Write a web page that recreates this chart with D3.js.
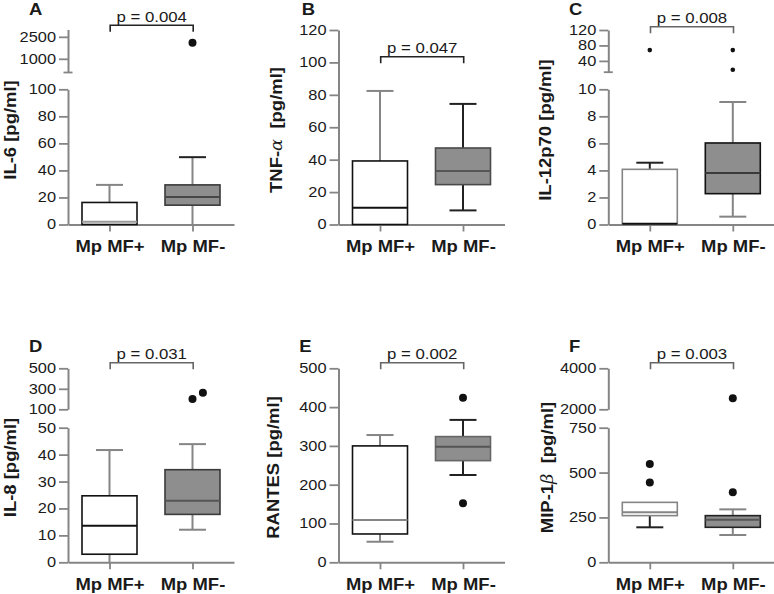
<!DOCTYPE html>
<html><head><meta charset="utf-8">
<script src="https://cdn.jsdelivr.net/npm/d3@7"></script>
<style>
body{margin:0;background:#fff}
svg{display:block}
text{font-family:"Liberation Sans",Arial,sans-serif;fill:#1a1a1a}
</style>
</head><body>
<svg id="chart" width="774" height="594"></svg>
<script>
// ---------- data ----------
const groups = ["Mp MF+", "Mp MF-"];
const panelLetters = ["A", "B", "C", "D", "E", "F"];
const yTitles = ["IL-6 [pg/ml]", "TNF-α  [pg/ml]", "IL-12p70 [pg/ml]", "IL-8 [pg/ml]", "RANTES [pg/ml]", "MIP-1β  [pg/ml]"];
const pLabels = ["p = 0.004", "p = 0.047", "p = 0.008", "p = 0.031", "p = 0.002", "p = 0.003"];

// box statistics per group: [lower whisker, Q1, median, Q3, upper whisker]
const il6Stats = [[0, 0, 2, 16.3, 29.3], [0, 14.3, 20.4, 29.3, 49.8]];
const il6Outliers = [[], [2100]];
const tnfStats = [[0, 0, 10.3, 39.2, 82.4], [8.7, 24.6, 33, 47.2, 74.4]];
const tnfOutliers = [[], []];
const il12Stats = [[0, 0, 0.05, 4.08, 4.57], [0.58, 2.28, 3.81, 6.03, 9.06]];
const il12Outliers = [[68], [68, 17]];
const il8Stats = [[0, 3.0, 13.6, 24.7, 41.7], [12.1, 17.8, 22.9, 34.4, 43.9]];
const il8Outliers = [[], [200, 262]];
const rantesStats = [[53, 73, 109, 300, 328], [225, 262, 298, 324, 367]];
const rantesOutliers = [[], [424, 152]];
const mipStats = [[195, 260, 279, 334, 334], [152, 195, 237, 260, 295]];
const mipOutliers = [[548, 444], [390, 2540]];

// axis domains and ticks
const il6Lower = [0, 100], il6LowerTicks = [0, 20, 40, 60, 80, 100];
const il6Upper = [100, 3000], il6UpperTicks = [100, 1000, 2500], il6UpperLabels = ["", "1000", "2500"];
const tnfLower = [0, 120], tnfLowerTicks = [0, 20, 40, 60, 80, 100, 120];
const il12Lower = [0, 10], il12LowerTicks = [0, 2, 4, 6, 8, 10];
const il12Upper = [12, 120], il12UpperTicks = [12, 40, 80, 120], il12UpperLabels = ["", "40", "80", "120"];
const il8Lower = [0, 50], il8LowerTicks = [0, 10, 20, 30, 40, 50];
const il8Upper = [100, 500], il8UpperTicks = [100, 300, 500], il8UpperLabels = ["100", "300", "500"];
const rantesLower = [0, 500], rantesLowerTicks = [0, 100, 200, 300, 400, 500];
const mipLower = [0, 750], mipLowerTicks = [0, 250, 500, 750];
const mipUpper = [2000, 4000], mipUpperTicks = [2000, 4000], mipUpperLabels = ["2000", "4000"];

const panels = [
  {stats: il6Stats, outliers: il6Outliers, lower: il6Lower, lowerTicks: il6LowerTicks, upper: il6Upper, upperTicks: il6UpperTicks, upperLabels: il6UpperLabels},
  {stats: tnfStats, outliers: tnfOutliers, lower: tnfLower, lowerTicks: tnfLowerTicks},
  {stats: il12Stats, outliers: il12Outliers, lower: il12Lower, lowerTicks: il12LowerTicks, upper: il12Upper, upperTicks: il12UpperTicks, upperLabels: il12UpperLabels},
  {stats: il8Stats, outliers: il8Outliers, lower: il8Lower, lowerTicks: il8LowerTicks, upper: il8Upper, upperTicks: il8UpperTicks, upperLabels: il8UpperLabels},
  {stats: rantesStats, outliers: rantesOutliers, lower: rantesLower, lowerTicks: rantesLowerTicks},
  {stats: mipStats, outliers: mipOutliers, lower: mipLower, lowerTicks: mipLowerTicks, upper: mipUpper, upperTicks: mipUpperTicks, upperLabels: mipUpperLabels}
];

// ---------- layout & style ----------
const colX = [68, 338.5, 608.3];
const rowLayout = [
  {bottom: 224.5, lowTopBroken: 89.3, lowTopFull: 30, letterY: 15, titleY: 130},
  {bottom: 562.3, lowTopBroken: 427.7, lowTopFull: 368.3, letterY: 352, titleY: 467.5}
];
const bracketY = [25.3, 56.7, 26.7, 362.7, 362.7, 362.7];
const letterX = [29, 301.7, 569, 29, 299.3, 569];
const titleX = [15.5, 282, 551, 15.5, 279, 553];
const upRange = [[72, 29.5], null, [71.7, 30], [409.3, 368.3], null, [409.3, 368.3]];
const dotR = [4, 4, 2.3, 4, 4, 4];
const GRAY = "#858585";
const FILL2 = "#8e8e8e";
const styles = [
  {box: ["#111", "#3a3a3a"], med: ["#999", "#474747"], wh: [GRAY, GRAY], cap: [GRAY, "#222"]},
  {box: ["#111", "#4a4a4a"], med: ["#111", "#555"], wh: [GRAY, "#222"], cap: [GRAY, "#222"]},
  {box: [GRAY, "#111"], med: ["#111", "#3a3a3a"], wh: ["#222", GRAY], cap: ["#222", GRAY]},
  {box: ["#111", "#3a3a3a"], med: ["#111", "#555"], wh: [GRAY, GRAY], cap: [GRAY, GRAY]},
  {box: ["#111", "#666"], med: [GRAY, "#555"], wh: [GRAY, "#222"], cap: [GRAY, "#222"]},
  {box: [GRAY, "#222"], med: [GRAY, "#555"], wh: ["#222", GRAY], cap: ["#222", GRAY]}
];
const STRETCH = 1.12;
const TICK_STRETCH = 1.17;

const svg = d3.select("#chart");

function stretchText(sel, origin, s = STRETCH) {
  sel.style("transform-box", "fill-box").style("transform-origin", origin).style("transform", `scaleX(${s})`);
}

function addTitle(g, txt, x, y) {
  const t = g.append("text")
    .attr("transform", `translate(${x},${y}) rotate(-90) scale(${STRETCH},1)`)
    .attr("text-anchor", "middle")
    .style("font-size", "16.5px").style("font-weight", "bold").style("white-space", "pre");
  txt.split(/([αβ])/).forEach(part => {
    if (!part) return;
    const ts = t.append("tspan").text(part);
    if (/[αβ]/.test(part)) ts.style("font-family", "'DejaVu Serif','Liberation Serif',serif").style("font-weight", "normal").style("font-style", "italic").style("font-size", "16px");
  });
}

function styleAxis(a, labelSize) {
  a.select(".domain").attr("stroke", GRAY).attr("stroke-width", 2);
  a.selectAll(".tick line").attr("stroke", GRAY).attr("stroke-width", 1.8);
  a.selectAll(".tick text").attr("fill", "#1a1a1a").style("font-size", labelSize).style("font-family", '"Liberation Sans",Arial,sans-serif');
}

panels.forEach((p, i) => {
  const row = rowLayout[Math.floor(i / 3)];
  const ax = colX[i % 3];
  const st = styles[i];
  const g = svg.append("g");

  const x = d3.scalePoint().domain(groups).range([ax, ax + 166]).padding(0.5);
  const yLow = d3.scaleLinear().domain(p.lower).range([row.bottom, p.upper ? row.lowTopBroken : row.lowTopFull]);
  const yUp = p.upper ? d3.scaleLinear().domain(p.upper).range(upRange[i]) : null;
  const yv = v => (p.upper && v > p.lower[1]) ? yUp(v) : yLow(v);

  // lower y axis
  const aL = g.append("g").attr("transform", `translate(${ax},0)`)
    .call(d3.axisLeft(yLow).tickValues(p.lowerTicks).tickSize(9).tickPadding(3).tickSizeOuter(0).tickFormat(d3.format("d")));
  styleAxis(aL, "14px");
  stretchText(aL.selectAll(".tick text"), "right center", TICK_STRETCH);

  if (yUp) {
    const aU = g.append("g").attr("transform", `translate(${ax},0)`)
      .call(d3.axisLeft(yUp).tickValues(p.upperTicks).tickSize(9).tickPadding(3).tickSizeOuter(0)
        .tickFormat((d, k) => p.upperLabels[k]));
    styleAxis(aU, "14px");
    stretchText(aU.selectAll(".tick text"), "right center", TICK_STRETCH);
    // unlabeled segment-end ticks straddle the axis
    aU.selectAll(".tick").filter((d, k) => p.upperLabels[k] === "")
      .select("line").attr("x1", -4.5).attr("x2", 4.5);
  }

  // x axis
  const aX = g.append("g").attr("transform", `translate(0,${row.bottom})`)
    .call(d3.axisBottom(x).tickSize(7).tickPadding(9).tickSizeOuter(0));
  styleAxis(aX, "16.5px");
  aX.selectAll(".tick text").style("font-weight", "bold");
  stretchText(aX.selectAll(".tick text"), "center");

  const half = 27.5, capHalf = 13.5;
  groups.forEach((grp, k) => {
    const [lo, q1, med, q3, hi] = p.stats[k];
    const cx = x(grp);
    const wg = g.append("g");
    if (hi > q3) {
      wg.append("line").attr("x1", cx).attr("x2", cx).attr("y1", yv(q3)).attr("y2", yv(hi)).attr("stroke", st.wh[k]).attr("stroke-width", 2);
      wg.append("line").attr("x1", cx - capHalf).attr("x2", cx + capHalf).attr("y1", yv(hi)).attr("y2", yv(hi)).attr("stroke", st.cap[k]).attr("stroke-width", 2);
    }
    if (lo < q1) {
      wg.append("line").attr("x1", cx).attr("x2", cx).attr("y1", yv(q1)).attr("y2", yv(lo)).attr("stroke", st.wh[k]).attr("stroke-width", 2);
      if (lo > p.lower[0])
        wg.append("line").attr("x1", cx - capHalf).attr("x2", cx + capHalf).attr("y1", yv(lo)).attr("y2", yv(lo)).attr("stroke", st.cap[k]).attr("stroke-width", 2);
    }
    g.append("rect").attr("x", cx - half).attr("width", half * 2)
      .attr("y", yv(q3)).attr("height", yv(q1) - yv(q3))
      .attr("fill", k === 0 ? "#fff" : FILL2).attr("stroke", st.box[k]).attr("stroke-width", 1.6);
    g.append("line").attr("x1", cx - half).attr("x2", cx + half).attr("y1", yv(med)).attr("y2", yv(med))
      .attr("stroke", st.med[k]).attr("stroke-width", 2);

    const placed = [];
    p.outliers[k].forEach(v => {
      const py = yv(v);
      let px = cx;
      if (placed.some(q => Math.abs(q - py) < dotR[i] * 2 + 1)) px = cx + dotR[i] * 2.6;
      placed.push(py);
      g.append("circle").attr("cx", px).attr("cy", py).attr("r", dotR[i]).attr("fill", "#111");
    });
  });

  // bracket + p label
  const bx1 = x(groups[0]) + 0.7, bx2 = x(groups[1]) + 0.7, by = bracketY[i];
  g.append("path").attr("d", `M${bx1},${by + 6.5}V${by}H${bx2}V${by + 6.5}`)
    .attr("fill", "none").attr("stroke", i === 0 || i === 1 ? "#222" : "#666").attr("stroke-width", 1.6);
  const pt = g.append("text").attr("x", (bx1 + bx2) / 2).attr("y", by - 3.3).attr("text-anchor", "middle")
    .style("font-size", "15px").text(pLabels[i]);
  stretchText(pt, "center");

  // panel letter
  const lt = g.append("text").attr("x", letterX[i]).attr("y", row.letterY)
    .style("font-size", "16.5px").style("font-weight", "bold").text(panelLetters[i]);
  stretchText(lt, "left center");

  addTitle(g, yTitles[i], titleX[i], row.titleY);
});
</script>
</body></html>
